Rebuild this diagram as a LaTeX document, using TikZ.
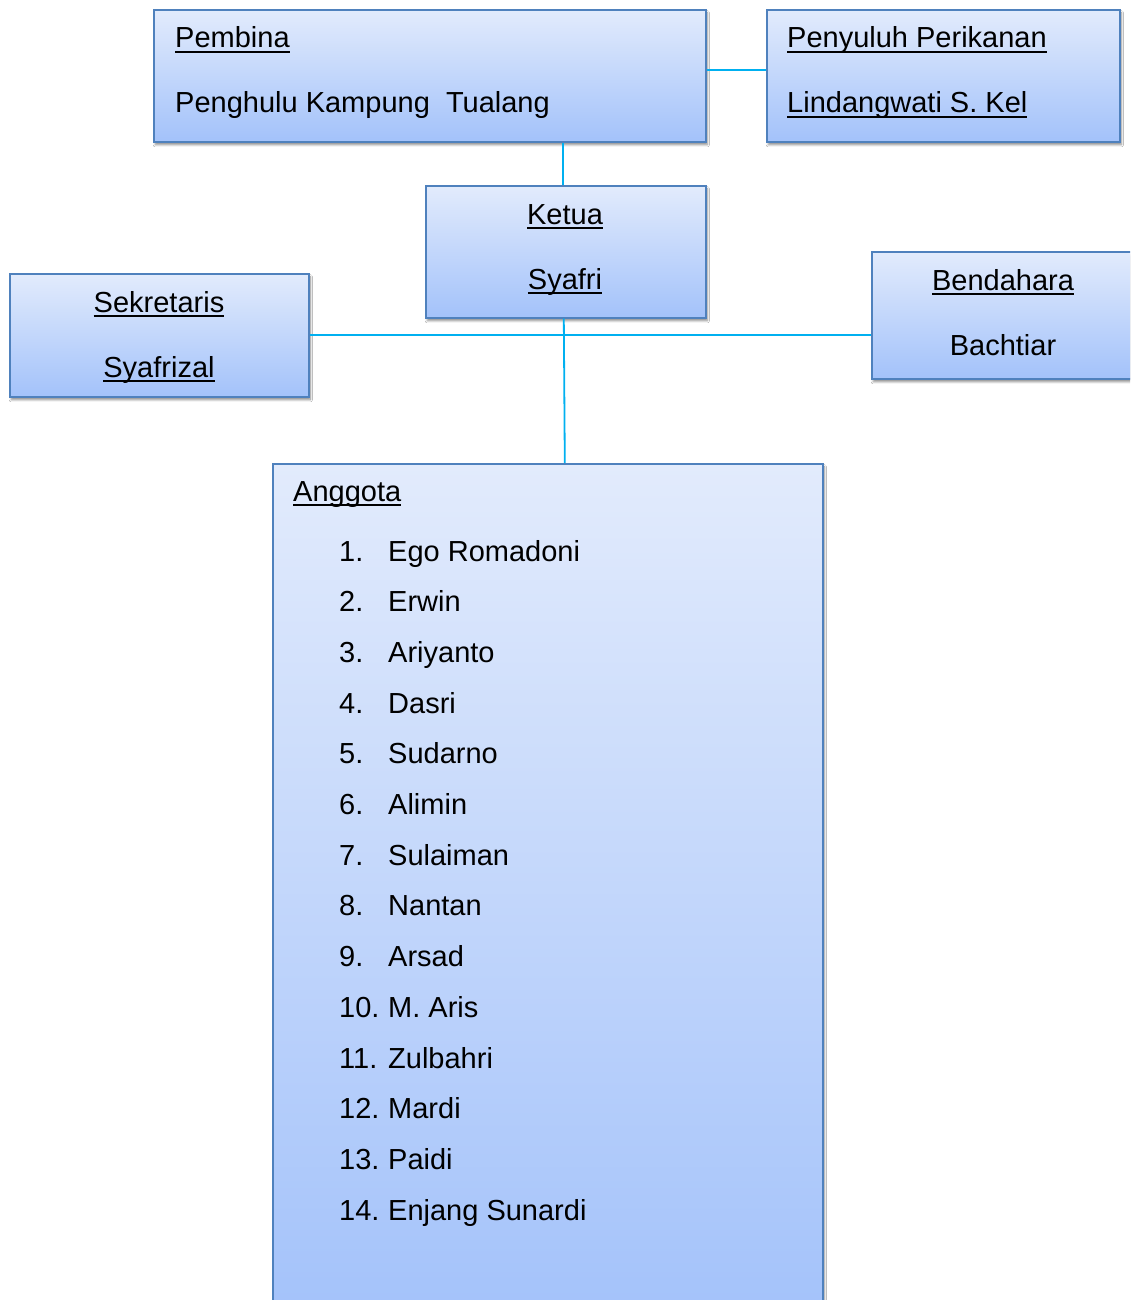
\documentclass[tikz,border=0pt]{standalone}
\usepackage{fontspec}
\setmainfont{Liberation Sans}
\usetikzlibrary{shadows.blur,calc}
\definecolor{boxtop}{RGB}{226,235,252}
\definecolor{boxbot}{RGB}{163,194,250}
\definecolor{boxline}{RGB}{79,129,189}
\definecolor{connc}{RGB}{0,176,240}
\newcommand{\myul}[1]{\setbox0\hbox{#1}\rlap{\rule[-4.6pt]{\wd0}{2pt}}\box0}
\tikzset{
  orgbox/.style={draw=boxline, line width=1.6pt, top color=boxtop, bottom color=boxbot,
    anchor=north west, inner sep=0pt,
    blur shadow={shadow xshift=1.5pt, shadow yshift=-3pt, shadow blur steps=6, shadow opacity=45}},
  conn/.style={draw=connc, line width=1.8pt},
  lbl/.style={font=\fontsize{29}{33}\selectfont, inner sep=0pt, text=black},
}
\begin{document}
\begin{tikzpicture}[x=1pt,y=-1pt]
\useasboundingbox (0,0) rectangle (1130,1300);
\clip (0,0) rectangle (1130,1300);
\fill[white] (0,0) rectangle (1130,1300);
% boxes
\node[orgbox, minimum width=552, minimum height=132] (pembina) at (153,9) {};
\node[orgbox, minimum width=353, minimum height=132] (penyuluh) at (766,9) {};
\node[orgbox, minimum width=280, minimum height=132] (ketua) at (425,185) {};
\node[orgbox, minimum width=299, minimum height=123] (sekretaris) at (9,273) {};
\node[orgbox, minimum width=280, minimum height=127] (bendahara) at (871,251) {};
\node[orgbox, minimum width=550, minimum height=860] (anggota) at (272,463) {};
% connectors
\draw[conn] ([yshift=6pt]pembina.east) -- ([yshift=6pt]penyuluh.west);
\draw[conn] ([xshift=-3pt]ketua.north) -- ([xshift=-3pt]ketua.north |- pembina.south);
\draw[conn] (sekretaris.east) -- (sekretaris.east -| bendahara.west);
\draw[conn] ([xshift=-2pt]ketua.south) -- ([xshift=-1pt]ketua.south |- anggota.north);
% texts
\node[lbl, anchor=base west] (t1) at (175,48) {\myul{Pembina}};
\node[lbl, anchor=base west] (t2) at (175,113) {Penghulu Kampung\ \ Tualang};
\node[lbl, anchor=base west] (t3) at (787,48) {\myul{Penyuluh Perikanan}};
\node[lbl, anchor=base west] (t4) at (787,113) {\myul{Lindangwati S. Kel}};
\node[lbl, anchor=base] (t5) at (565,224) {\myul{Ketua}};
\node[lbl, anchor=base] (t6) at (565,289) {\myul{Syafri}};
\node[lbl, anchor=base] (t7) at (159,312) {\myul{Sekretaris}};
\node[lbl, anchor=base] (t8) at (159,377) {\myul{Syafrizal}};
\node[lbl, anchor=base] (t9) at (1003,290) {\myul{Bendahara}};
\node[lbl, anchor=base] (t10) at (1003,355) {Bachtiar};
\node[lbl, anchor=base west] (t11) at (293,501) {\myul{Anggota}};
\foreach \i/\n in {1/Ego Romadoni,2/Erwin,3/Ariyanto,4/Dasri,5/Sudarno,6/Alimin,7/Sulaiman,8/Nantan,9/Arsad,10/M. Aris,11/Zulbahri,12/Mardi,13/Paidi,14/Enjang Sunardi}{
  \pgfmathsetmacro{\yy}{561+50.7*(\i-1)}
  \node[lbl, anchor=base west] (num\i) at (339,\yy) {\i.};
  \node[lbl, anchor=base west] (name\i) at (388,\yy) {\n};
}
\end{tikzpicture}
\end{document}
